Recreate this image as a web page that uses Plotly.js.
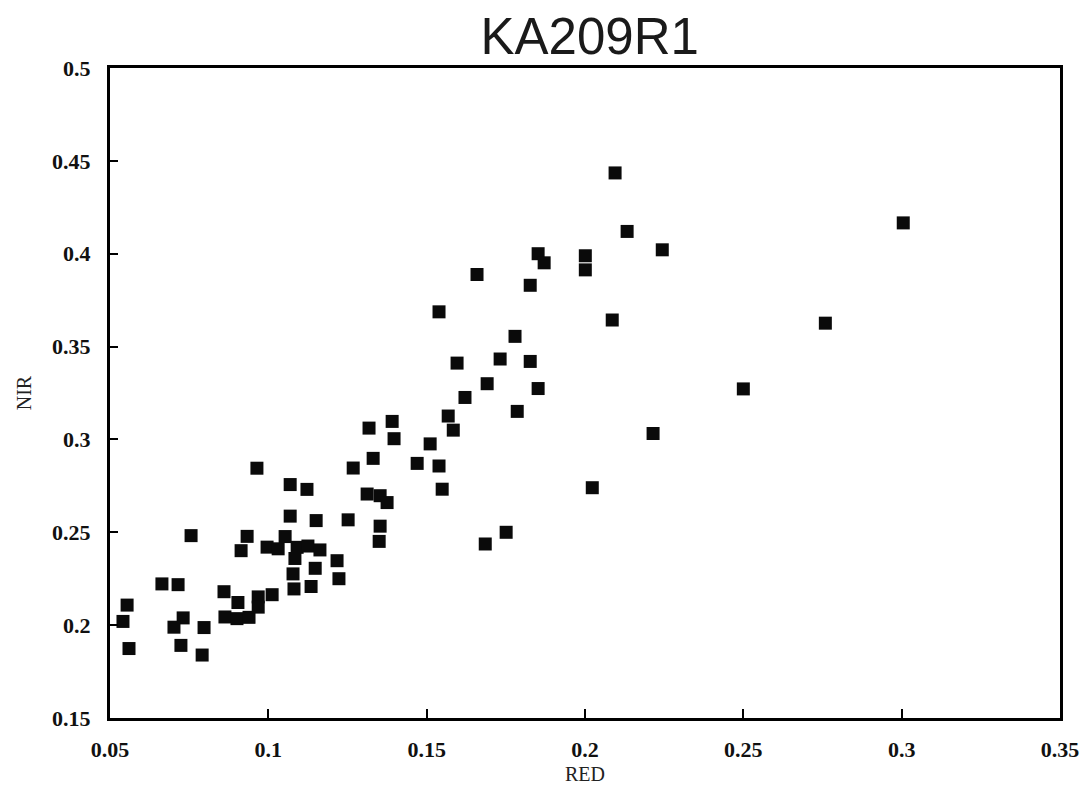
<!DOCTYPE html>
<html>
<head>
<meta charset="utf-8">
<script src="https://cdn.plot.ly/plotly-3.0.1.min.js"></script>
<style>html,body{margin:0;padding:0;background:#fff;}#chart{width:1086px;height:792px;}</style>
</head>
<body>
<div id="chart"></div>
<script>
// RED reflectance (x) and NIR reflectance (y)
const red = [
  0.0554, 0.0541, 0.0560, 0.0664, 0.0715, 0.0756, 0.0731, 0.0702, 0.0724, 0.0797,
  0.0791, 0.0860, 0.0863, 0.0901, 0.0939, 0.0904, 0.0968, 0.0968, 0.1012, 0.0964,
  0.0933, 0.0914, 0.0996, 0.1031, 0.1053, 0.1091, 0.1069, 0.1069, 0.1078, 0.1081,
  0.1122, 0.1151, 0.1252, 0.1125, 0.1163, 0.1217, 0.1148, 0.1223, 0.1135, 0.1084,
  0.1268, 0.1312, 0.1353, 0.1375, 0.1353, 0.1350, 0.1318, 0.1391, 0.1397, 0.1331,
  0.1511, 0.1470, 0.1539, 0.1549, 0.1568, 0.1584,
  0.1539, 0.1659, 0.1852, 0.1871, 0.1827, 0.2001, 0.2001, 0.1779, 0.1596, 0.1732,
  0.1827, 0.1691, 0.1852, 0.1621, 0.2023, 0.1751, 0.1685, 0.2086, 0.1786,
  0.2095, 0.2133, 0.2244, 0.3005, 0.2759, 0.2500, 0.2215
];
const nir = [
  0.2108, 0.2020, 0.1874, 0.2222, 0.2218, 0.2482, 0.2039, 0.1989, 0.1891, 0.1987,
  0.1839, 0.2180, 0.2044, 0.2035, 0.2042, 0.2122, 0.2152, 0.2097, 0.2164, 0.2845,
  0.2478, 0.2401, 0.2420, 0.2411, 0.2477, 0.2419, 0.2757, 0.2587, 0.2276, 0.2195,
  0.2731, 0.2563, 0.2567, 0.2426, 0.2405, 0.2347, 0.2306, 0.2250, 0.2208, 0.2359,
  0.2846, 0.2706, 0.2697, 0.2660, 0.2533, 0.2451, 0.3061, 0.3097, 0.3004, 0.2898,
  0.2976, 0.2871, 0.2857, 0.2732, 0.3126, 0.3050,
  0.3687, 0.3888, 0.4000, 0.3951, 0.3830, 0.3989, 0.3913, 0.3555, 0.3411, 0.3433,
  0.3420, 0.3300, 0.3274, 0.3226, 0.2740, 0.2500, 0.2437, 0.3643, 0.3151,
  0.4435, 0.4120, 0.4021, 0.4166, 0.3626, 0.3272, 0.3032
];
const xTicks = [0.05, 0.1, 0.15, 0.2, 0.25, 0.3, 0.35];
const xTickText = ['0.05', '0.1', '0.15', '0.2', '0.25', '0.3', '0.35'];
const yTicks = [0.15, 0.2, 0.25, 0.3, 0.35, 0.4, 0.45, 0.5];
const yTickText = ['0.15', '0.2', '0.25', '0.3', '0.35', '0.4', '0.45', '0.5'];

const serif = {family: 'Liberation Serif, DejaVu Serif, serif', size: 22, color: '#111', weight: 'bold'};

Plotly.newPlot('chart', [{
  type: 'scatter',
  mode: 'markers',
  x: red,
  y: nir,
  marker: {symbol: 'square', size: 13, color: '#0a0a0a', line: {width: 0}},
  hoverinfo: 'x+y'
}], {
  width: 1086,
  height: 792,
  paper_bgcolor: '#fff',
  plot_bgcolor: '#fff',
  showlegend: false,
  margin: {l: 110, r: 26, t: 68, b: 74},
  title: {
    text: 'KA209R1',
    font: {family: 'Liberation Sans, Arial, sans-serif', size: 51, color: '#1a1a1a'},
    x: 0.543, xanchor: 'center', y: 0.954, yanchor: 'middle'
  },
  xaxis: {
    range: [0.05, 0.35],
    tickvals: xTicks, ticktext: xTickText,
    ticks: 'inside', ticklen: 9, tickwidth: 2, tickcolor: '#000',
    showline: true, linewidth: 3, linecolor: '#000', mirror: true,
    showgrid: false, zeroline: false,
    tickfont: serif,
    ticklabelstandoff: 10,
    title: {text: 'RED', font: {family: 'Liberation Serif, DejaVu Serif, serif', size: 20, color: '#222'}, standoff: 6}
  },
  yaxis: {
    range: [0.15, 0.5],
    tickvals: yTicks, ticktext: yTickText,
    ticks: 'inside', ticklen: 8, tickwidth: 2, tickcolor: '#000',
    showline: true, linewidth: 3, linecolor: '#000', mirror: true,
    showgrid: false, zeroline: false,
    tickfont: serif,
    ticklabelstandoff: 12,
    title: {text: 'NIR', font: {family: 'Liberation Serif, DejaVu Serif, serif', size: 20, color: '#222'}, standoff: 16}
  }
}, {displayModeBar: false, staticPlot: true});
</script>
</body>
</html>
